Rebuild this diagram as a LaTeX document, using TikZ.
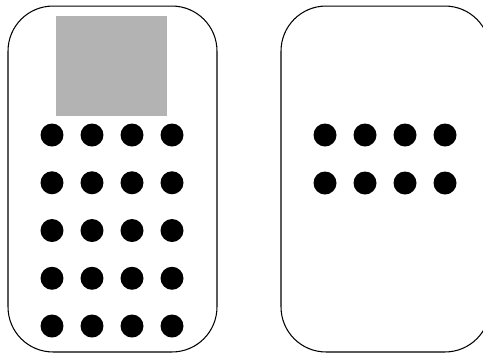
\documentclass[tikz,border=0pt]{standalone}
\usepackage{tikz}
\definecolor{screengrey}{HTML}{B3B3B3}

\begin{document}
\begin{tikzpicture}[
    x=0.02cm, y=-0.02cm,
    panel/.style={
        draw=black, line width=0.6pt, fill=white, rounded corners=0.9cm,
        minimum width=4.18cm, minimum height=6.92cm, inner sep=0pt,
    },
    screen/.style={fill=screengrey, minimum width=2.22cm, minimum height=2.0cm, inner sep=0pt},
    key/.style={circle, fill=black, minimum size=0.46cm, inner sep=0pt},
]
\useasboundingbox (0, 0) rectangle (483, 353);
\clip (0, 0) rectangle (483, 353);

% ── Left panel ──
\node[panel] (panelA) at (112.5, 179) {};
\node[screen] (screenA) at (111.5, 66) {};

% keypad, 4 x 5
\foreach \i in {0,...,3}
    \foreach \j in {0,...,4}
        \node[key] (keyA-\i-\j) at (52+40*\i, 135+47.75*\j) {};

% ── Right panel ──
\node[panel] (panelB) at (385.5, 179) {};

% keypad, 4 x 2
\foreach \i in {0,...,3}
    \foreach \j in {0,1}
        \node[key] (keyB-\i-\j) at (325+40*\i, 135+48*\j) {};

\end{tikzpicture}
\end{document}
